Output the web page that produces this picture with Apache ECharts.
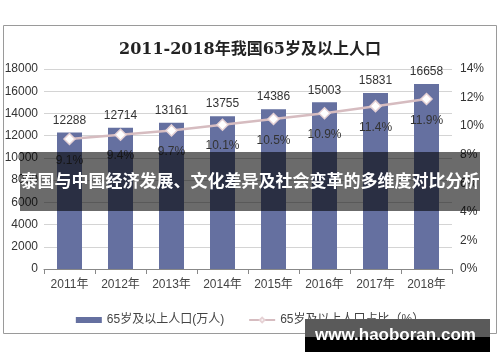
<!DOCTYPE html>
<html><head><meta charset="utf-8">
<script src="https://cdn.jsdelivr.net/npm/echarts@6/dist/echarts.min.js"></script>
<style>html,body{margin:0;padding:0;background:#fff}#c{width:500px;height:362px}</style>
</head><body><div id="c"></div>
<script>
const titleText = '2011-2018年我国65岁及以上人口';
const categories = ['2011年','2012年','2013年','2014年','2015年','2016年','2017年','2018年'];
const population = [12288, 12714, 13161, 13755, 14386, 15003, 15831, 16658];
const ratio = [9.1, 9.4, 9.7, 10.1, 10.5, 10.9, 11.4, 11.9];
const barName = '65岁及以上人口(万人)';
const lineName = '65岁及以上人口占比（%）';
const bannerText = '泰国与中国经济发展、文化差异及社会变革的多维度对比分析';
const watermark = 'www.haoboran.com';

const font = '"Liberation Sans", Arial, "Noto Sans CJK SC", sans-serif';
const chart = echarts.init(document.getElementById('c'), null, {renderer:'canvas'});
chart.setOption({
  animation: false,
  backgroundColor: '#fff',
  title: {
    text: titleText, left: 'center', top: 37,
    textStyle: {fontFamily: '"DejaVu Serif", "Noto Sans CJK SC", serif', fontSize: 16, fontWeight: 'bold', color: '#222'}
  },
  grid: {left: 44, right: 48, top: 69, height: 200},
  legend: {
    top: 309, left: 'center', itemGap: 24, itemWidth: 26, itemHeight: 6,
    textStyle: {fontFamily: font, fontSize: 12, color: '#444'},
    data: [
      {name: barName, icon: 'rect'},
      {name: lineName}
    ]
  },
  xAxis: {
    type: 'category', data: categories,
    axisLine: {lineStyle: {color: '#888'}},
    axisTick: {show: true, alignWithLabel: false, lineStyle: {color: '#888'}},
    axisLabel: {fontFamily: font, fontSize: 12, color: '#444', margin: 10}
  },
  yAxis: [
    {type: 'value', min: 0, max: 18000, interval: 2000,
     axisLabel: {fontFamily: font, fontSize: 12, color: '#333', margin: 6, formatter: v => String(v)},
     splitLine: {lineStyle: {color: '#d4d4d4'}},
     axisLine: {show: false}, axisTick: {show: false}},
    {type: 'value', min: 0, max: 14, interval: 2,
     axisLabel: {fontFamily: font, fontSize: 12, color: '#333', margin: 8, formatter: '{value}%'},
     splitLine: {show: false}, axisLine: {show: false}, axisTick: {show: false}}
  ],
  series: [
    {name: barName, type: 'bar', data: population, barWidth: 25, yAxisIndex: 0,
     itemStyle: {color: '#6570a0'},
     label: {show: true, position: 'top', distance: 6, fontFamily: font, fontSize: 12, color: '#333'}},
    {name: lineName, type: 'line', data: ratio, yAxisIndex: 1,
     symbol: 'diamond', symbolSize: 11,
     lineStyle: {color: '#d6bcc0', width: 2.5},
     itemStyle: {color: '#ffffff', borderColor: '#e6d2d5', borderWidth: 1.5},
     label: {show: true, position: 'bottom', distance: 9, fontFamily: font, fontSize: 12, color: '#333', formatter: p => p.value + '%'}}
  ],
  graphic: [
    {type: 'rect', z: 0, silent: true, shape: {x: 3.5, y: 25.5, width: 493, height: 308},
     style: {fill: 'none', stroke: '#9a9a9a', lineWidth: 1}},
    {type: 'rect', z: 100, silent: true, shape: {x: 20, y: 152, width: 460, height: 59},
     style: {fill: 'rgba(0,0,0,0.58)'}},
    {type: 'text', z: 101, silent: true, left: 'center', top: 172,
     style: {text: bannerText, fill: '#fff', font: 'bold 17px "Noto Sans CJK SC", sans-serif'}},
    {type: 'rect', z: 100, silent: true, shape: {x: 305, y: 319, width: 185, height: 18},
     style: {fill: '#5a5a5a'}},
    {type: 'rect', z: 100, silent: true, shape: {x: 305, y: 337, width: 185, height: 15},
     style: {fill: '#000'}},
    {type: 'text', z: 101, silent: true, left: 315, top: 327,
     style: {text: watermark, fill: '#fff', font: 'bold 17px "Liberation Sans", Arial, sans-serif'}}
  ]
});
</script></body></html>
